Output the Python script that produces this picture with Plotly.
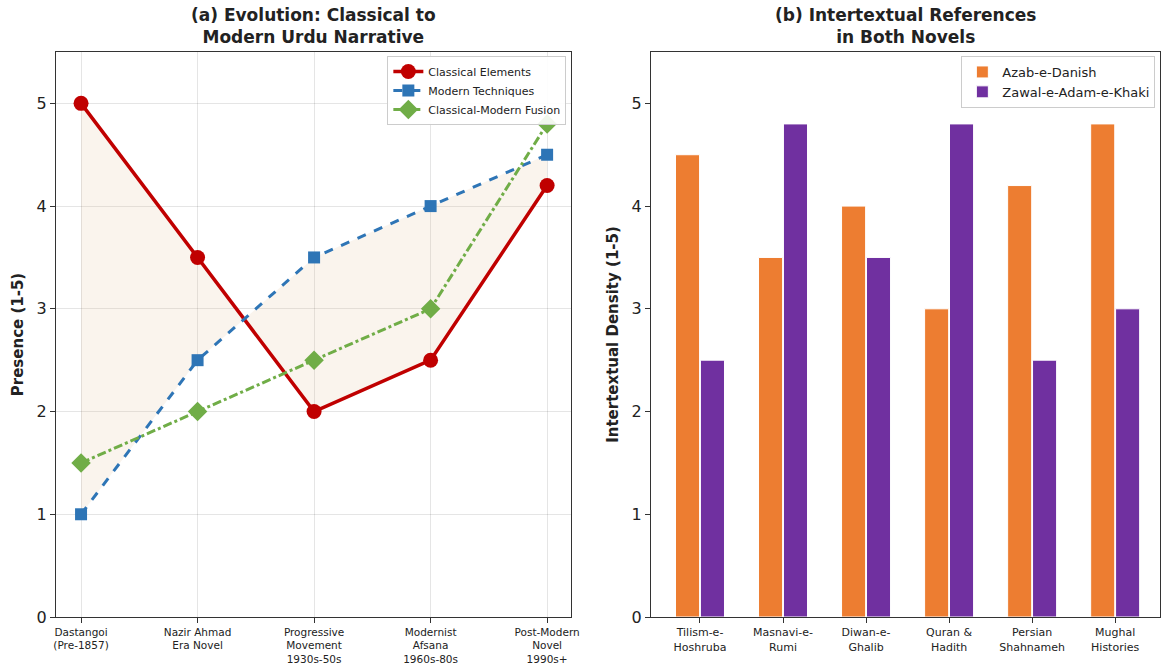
import plotly.graph_objects as go

# Panel (a): evolution of narrative features across eras
eras = ["Dastangoi<br>(Pre-1857)", "Nazir Ahmad<br>Era Novel", "Progressive<br>Movement<br>1930s-50s",
        "Modernist<br>Afsana<br>1960s-80s", "Post-Modern<br>Novel<br>1990s+"]
era_pos = [0, 1, 2, 3, 4]
classical = [5.0, 3.5, 2.0, 2.5, 4.2]
modern = [1.0, 2.5, 3.5, 4.0, 4.5]
fusion = [1.5, 2.0, 2.5, 3.0, 4.8]

# Panel (b): intertextual references
sources = ["Tilism-e-<br>Hoshruba", "Masnavi-e-<br>Rumi", "Diwan-e-<br>Ghalib", "Quran &<br>Hadith",
           "Persian<br>Shahnameh", "Mughal<br>Histories"]
src_pos = [0, 1, 2, 3, 4, 5]
azab = [4.5, 3.5, 4.0, 3.0, 4.2, 4.8]
zawal = [2.5, 4.8, 3.5, 4.8, 2.5, 3.0]

RED, BLUE, GREEN = "#C00000", "#2E75B6", "#70AD47"
ORANGE, PURPLE = "#ED7D31", "#7030A0"
FONT = "DejaVu Sans"

fig = go.Figure()

# shaded band between classical and modern curves
fig.add_trace(go.Scatter(x=era_pos, y=modern, mode="lines", line=dict(width=0),
                         showlegend=False, hoverinfo="skip", xaxis="x", yaxis="y"))
fig.add_trace(go.Scatter(x=era_pos, y=classical, mode="lines", line=dict(width=0),
                         fill="tonexty", fillcolor="rgba(222,184,135,0.15)",
                         showlegend=False, hoverinfo="skip", xaxis="x", yaxis="y"))

fig.add_trace(go.Scatter(x=era_pos, y=classical, mode="lines+markers", name="Classical Elements",
                         line=dict(color=RED, width=3.5), marker=dict(symbol="circle", size=15, color=RED),
                         xaxis="x", yaxis="y", legend="legend"))
fig.add_trace(go.Scatter(x=era_pos, y=modern, mode="lines+markers", name="Modern Techniques",
                         line=dict(color=BLUE, width=3, dash="dash"),
                         marker=dict(symbol="square", size=12, color=BLUE),
                         xaxis="x", yaxis="y", legend="legend"))
fig.add_trace(go.Scatter(x=era_pos, y=fusion, mode="lines+markers", name="Classical-Modern Fusion",
                         line=dict(color=GREEN, width=3, dash="dashdot"),
                         marker=dict(symbol="diamond", size=15, color=GREEN),
                         xaxis="x", yaxis="y", legend="legend"))

fig.add_trace(go.Bar(x=src_pos, y=azab, name="Azab-e-Danish", marker=dict(color=ORANGE, line=dict(color="white", width=1)),
                     width=0.29, offset=-0.295, xaxis="x2", yaxis="y2", legend="legend2"))
fig.add_trace(go.Bar(x=src_pos, y=zawal, name="Zawal-e-Adam-e-Khaki", marker=dict(color=PURPLE, line=dict(color="white", width=1)),
                     width=0.29, offset=0.005, xaxis="x2", yaxis="y2", legend="legend2"))

ydom = [1 - 617 / 666, 1 - 52 / 666]
axis_common = dict(showline=True, linecolor="#333333", linewidth=1.2, mirror=True, automargin=False,
                   ticks="outside", ticklen=5, tickcolor="#333333", zeroline=False)

fig.update_layout(
    width=1164, height=666,
    margin=dict(l=0, r=0, t=0, b=0),
    paper_bgcolor="white", plot_bgcolor="white",
    font=dict(family=FONT, color="#222222"),
    barmode="overlay",
    xaxis=dict(domain=[56 / 1164, 571 / 1164], range=[-0.215, 4.205], tickvals=era_pos, ticktext=eras,
               tickfont=dict(size=10.5), showgrid=True, gridcolor="rgba(0,0,0,0.1)", **axis_common),
    yaxis=dict(domain=ydom, range=[0, 5.5], tickvals=[0, 1, 2, 3, 4, 5], tickfont=dict(size=16),
               showgrid=True, gridcolor="rgba(0,0,0,0.1)",
               title=dict(text="<b>Presence (1-5)</b>", font=dict(size=15), standoff=9), **axis_common),
    xaxis2=dict(domain=[651 / 1164, 1160 / 1164], range=[-0.59, 5.54], tickvals=src_pos, ticktext=sources,
                tickfont=dict(size=11), showgrid=False, anchor="y2", **axis_common),
    yaxis2=dict(domain=ydom, range=[0, 5.5], tickvals=[0, 1, 2, 3, 4, 5], tickfont=dict(size=16),
                showgrid=False, anchor="x2",
                title=dict(text="<b>Intertextual Density (1-5)</b>", font=dict(size=15), standoff=9), **axis_common),
    legend=dict(x=571 / 1164 - 0.004, y=1 - 52 / 666 - 0.006, xanchor="right", yanchor="top",
                bgcolor="rgba(255,255,255,0.9)", bordercolor="#cccccc", borderwidth=1,
                font=dict(size=11), tracegroupgap=0, itemwidth=30, traceorder="normal"),
    legend2=dict(x=1160 / 1164 - 0.004, y=1 - 52 / 666 - 0.006, xanchor="right", yanchor="top",
                 bgcolor="rgba(255,255,255,0.9)", bordercolor="#cccccc", borderwidth=1,
                 font=dict(size=13), tracegroupgap=0, itemwidth=30, traceorder="normal"),
    annotations=[
        dict(text="<b>(a) Evolution: Classical to<br>Modern Urdu Narrative</b>", x=(56 + 571) / 2 / 1164,
             y=1 - 26 / 666, xref="paper", yref="paper", showarrow=False, font=dict(size=17),
             xanchor="center", yanchor="middle"),
        dict(text="<b>(b) Intertextual References<br>in Both Novels</b>", x=(651 + 1160) / 2 / 1164,
             y=1 - 26 / 666, xref="paper", yref="paper", showarrow=False, font=dict(size=17),
             xanchor="center", yanchor="middle"),
    ],
)

fig.write_html("out.html")
